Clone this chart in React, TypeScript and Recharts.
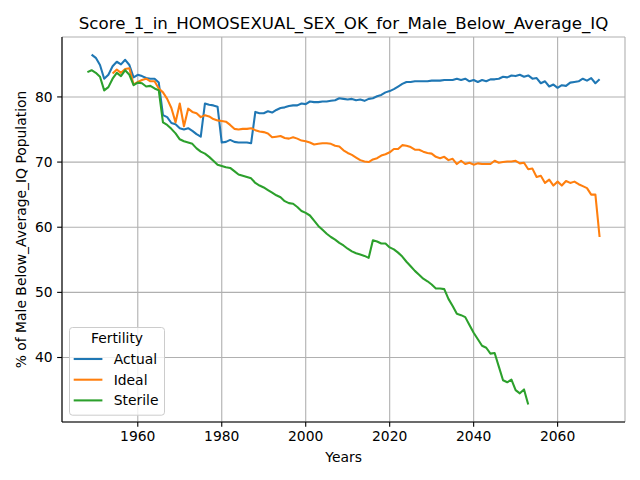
import React from 'react';
import { LineChart, Line, XAxis, YAxis, CartesianGrid, Legend } from 'recharts';

const TITLE = 'Score_1_in_HOMOSEXUAL_SEX_OK_for_Male_Below_Average_IQ';
const X_LABEL = 'Years';
const Y_LABEL = '% of Male Below_Average_IQ Population';
const LEGEND_TITLE = 'Fertility';
const SERIES_NAMES = ['Actual', 'Ideal', 'Sterile'];
const SERIES_COLORS = ['#1f77b4', '#ff7f0e', '#2ca02c'];
const X_TICKS = [1960, 1980, 2000, 2020, 2040, 2060];
const Y_TICKS = [40, 50, 60, 70, 80];

const ACTUAL_START = 1949;
const actual = [
  86.5, 86.0, 84.9, 82.8, 83.4, 84.7, 85.4, 85.0, 85.7, 84.9,
  83.0, 83.4, 83.2, 82.9, 82.8, 82.8, 82.2, 77.2, 76.9, 76.0,
  75.8, 75.2, 75.0, 75.2, 74.8, 74.3, 73.9, 79.0, 78.8, 78.7,
  78.5, 73.0, 73.1, 73.4, 73.1, 73.0, 73.0, 73.0, 72.9, 77.7,
  77.5, 77.5, 77.8, 77.6, 78.0, 78.3, 78.4, 78.6, 78.7, 78.7,
  79.0, 78.9, 79.3, 79.2, 79.2, 79.3, 79.3, 79.4, 79.5, 79.8,
  79.7, 79.6, 79.7, 79.5, 79.6, 79.4, 79.7, 79.8, 80.1, 80.3,
  80.7, 80.9, 81.2, 81.6, 82.0, 82.3, 82.3, 82.4, 82.4, 82.4,
  82.4, 82.5, 82.5, 82.5, 82.6, 82.6, 82.6, 82.8, 82.6, 82.8,
  82.4, 82.6, 82.3, 82.6, 82.4, 82.7, 82.7, 82.8, 83.1, 83.0,
  83.3, 83.2, 83.4, 83.1, 83.3, 82.8, 82.9, 82.1, 82.4, 81.6,
  81.9, 81.4, 81.8, 81.7, 82.2, 82.3, 82.4, 82.8, 82.5, 82.9,
  82.1, 82.7,
];

const IDEAL_START = 1954;
const ideal = [
  83.6, 84.2, 83.7, 84.3, 84.4, 81.9, 82.3, 82.6, 82.8, 82.4,
  82.4, 81.3, 80.7, 79.7, 78.3, 76.1, 79.0, 75.5, 78.2, 77.7,
  77.5, 76.9, 77.2, 77.0, 76.6, 76.4, 76.3, 76.2, 75.7, 75.1,
  75.0, 75.1, 75.1, 75.2, 74.9, 74.7, 74.6, 74.4, 73.8, 73.9,
  74.0, 73.7, 73.6, 73.8, 73.6, 73.3, 73.2, 73.0, 72.7, 72.8,
  72.9, 72.9, 72.8, 72.5, 72.4, 71.8, 71.4, 71.1, 70.7, 70.3,
  70.1, 70.0, 70.4, 70.6, 71.0, 71.2, 71.5, 72.0, 72.0, 72.6,
  72.5, 72.3, 71.9, 71.9, 71.6, 71.4, 71.3, 70.8, 70.6, 70.8,
  70.3, 70.5, 69.7, 70.2, 69.7, 69.9, 69.6, 69.8, 69.7, 69.7,
  69.7, 70.2, 69.9, 70.0, 70.1, 70.1, 70.2, 69.8, 69.9, 68.9,
  69.0, 67.7, 67.9, 66.8, 67.3, 66.4, 67.0, 66.4, 67.1, 66.8,
  67.0, 66.6, 66.3, 66.0, 65.0, 65.0, 58.5,
];

const STERILE_START = 1948;
const sterile = [
  83.8, 84.1, 83.7, 83.1, 81.0, 81.5, 82.8, 83.7, 83.2, 84.1,
  83.4, 81.8, 82.2, 82.1, 81.6, 81.7, 81.3, 81.0, 76.1, 75.7,
  75.1, 74.4, 73.5, 73.2, 73.0, 72.8, 72.1, 71.6, 71.3, 70.8,
  70.2, 69.6, 69.4, 69.2, 69.1, 68.6, 68.1, 67.9, 67.7, 67.5,
  66.8, 66.4, 66.1, 65.7, 65.3, 64.9, 64.6, 64.0, 63.7, 63.6,
  63.1, 62.5, 62.2, 61.8, 61.0, 60.2, 59.6, 59.0, 58.5, 58.1,
  57.6, 57.2, 56.7, 56.3, 56.0, 55.8, 55.6, 55.3, 58.0, 57.8,
  57.5, 57.5, 56.9, 56.6, 56.1, 55.5, 54.7, 54.0, 53.3, 52.7,
  52.1, 51.7, 51.2, 50.6, 50.6, 50.5, 49.0, 47.9, 46.7, 46.5,
  46.2, 45.0, 43.8, 42.8, 41.8, 41.5, 40.6, 40.7, 38.6, 36.5,
  36.2, 36.6, 35.0, 34.5, 35.1, 32.8,
];

const FIRST_YEAR = 1948;
const LAST_YEAR = 2070;

const pick = (arr: number[], start: number, year: number) => {
  const v = arr[year - start];
  return v === undefined ? null : v;
};

const data: any[] = [];
for (let y = FIRST_YEAR; y <= LAST_YEAR; y++) {
  data.push({
    year: y,
    [SERIES_NAMES[0]]: pick(actual, ACTUAL_START, y),
    [SERIES_NAMES[1]]: pick(ideal, IDEAL_START, y),
    [SERIES_NAMES[2]]: pick(sterile, STERILE_START, y),
  });
}

const FONT = "'DejaVu Sans', sans-serif";
const FS = 13.89;
const tickStyle = { fill: '#000', fontSize: FS, fontFamily: FONT };

const renderLegend = (props: any) => {
  const payload = props.payload || [];
  return (
    <svg width={97} height={90} style={{ display: 'block', overflow: 'visible' }}>
      <rect x={0.5} y={0.5} width={95} height={87.7} rx={3} ry={3} fill="#ffffff" fillOpacity={0.8} stroke="#cccccc" strokeWidth={1} />
      <text x={48} y={16} textAnchor="middle" fontFamily={FONT} fontSize={FS} fill="#000">{LEGEND_TITLE}</text>
      {payload.map((p: any, i: number) => (
        <g key={p.value}>
          <line x1={4.7} x2={33.4} y1={32 + i * 20.7} y2={32 + i * 20.7} stroke={p.color} strokeWidth={2.08} />
          <text x={44.7} y={37 + i * 20.7} fontFamily={FONT} fontSize={FS} fill="#000">{p.value}</text>
        </g>
      ))}
    </svg>
  );
};

export default function App() {
  return (
    <div style={{ position: 'absolute', left: 0, top: 0, width: 640, height: 480, background: '#fff' }}>
      <LineChart
        width={640}
        height={480}
        data={data}
        margin={{ top: 37, right: 15, left: 0, bottom: 0 }}
        style={{ fontFamily: FONT }}
      >
        <CartesianGrid stroke="#b0b0b0" strokeWidth={1.1} />
        <XAxis
          dataKey="year"
          type="number"
          domain={[1941.95, 2076.05]}
          ticks={X_TICKS}
          allowDataOverflow
          height={58}
          tickSize={4.86}
          tickMargin={4.3}
          tick={tickStyle}
          axisLine={{ stroke: '#000', strokeWidth: 1.1 }}
          tickLine={{ stroke: '#000', strokeWidth: 1.1 }}
        />
        <XAxis
          xAxisId="top"
          orientation="top"
          dataKey="year"
          type="number"
          domain={[1941.95, 2076.05]}
          allowDataOverflow
          height={0}
          tick={false}
          tickLine={false}
          axisLine={{ stroke: '#000', strokeWidth: 1.1 }}
        />
        <YAxis
          type="number"
          domain={[30.1, 89.2]}
          ticks={Y_TICKS}
          allowDataOverflow
          width={62}
          tickSize={4.86}
          tickMargin={4.5}
          tick={tickStyle}
          axisLine={{ stroke: '#000', strokeWidth: 1.1 }}
          tickLine={{ stroke: '#000', strokeWidth: 1.1 }}
        />
        <YAxis
          yAxisId="right"
          orientation="right"
          type="number"
          domain={[30.1, 89.2]}
          allowDataOverflow
          width={0}
          tick={false}
          tickLine={false}
          axisLine={{ stroke: '#000', strokeWidth: 1.1 }}
        />
        {SERIES_NAMES.map((name, i) => (
          <Line
            key={name}
            type="linear"
            dataKey={name}
            name={name}
            stroke={SERIES_COLORS[i]}
            strokeWidth={2.08}
            dot={false}
            activeDot={false}
            connectNulls={false}
            isAnimationActive={false}
            strokeLinejoin="round"
          />
        ))}
        <Legend
          layout="vertical"
          align="center"
          verticalAlign="middle"
          content={renderLegend}
          wrapperStyle={{ position: 'absolute', left: 69, top: 327, width: 97, height: 90, right: 'auto', bottom: 'auto' }}
        />
      </LineChart>
      <svg width={640} height={480} style={{ position: 'absolute', left: 0, top: 0, pointerEvents: 'none' }}>
        <text x={343.6} y={29} textAnchor="middle" fontFamily={FONT} fontSize={16.67} fill="#000">{TITLE}</text>
        <text x={343.6} y={461.5} textAnchor="middle" fontFamily={FONT} fontSize={FS} fill="#000">{X_LABEL}</text>
        <text x={25.5} y={229.5} textAnchor="middle" fontFamily={FONT} fontSize={FS} fill="#000" transform="rotate(-90 25.5 229.5)">{Y_LABEL}</text>
      </svg>
    </div>
  );
}
